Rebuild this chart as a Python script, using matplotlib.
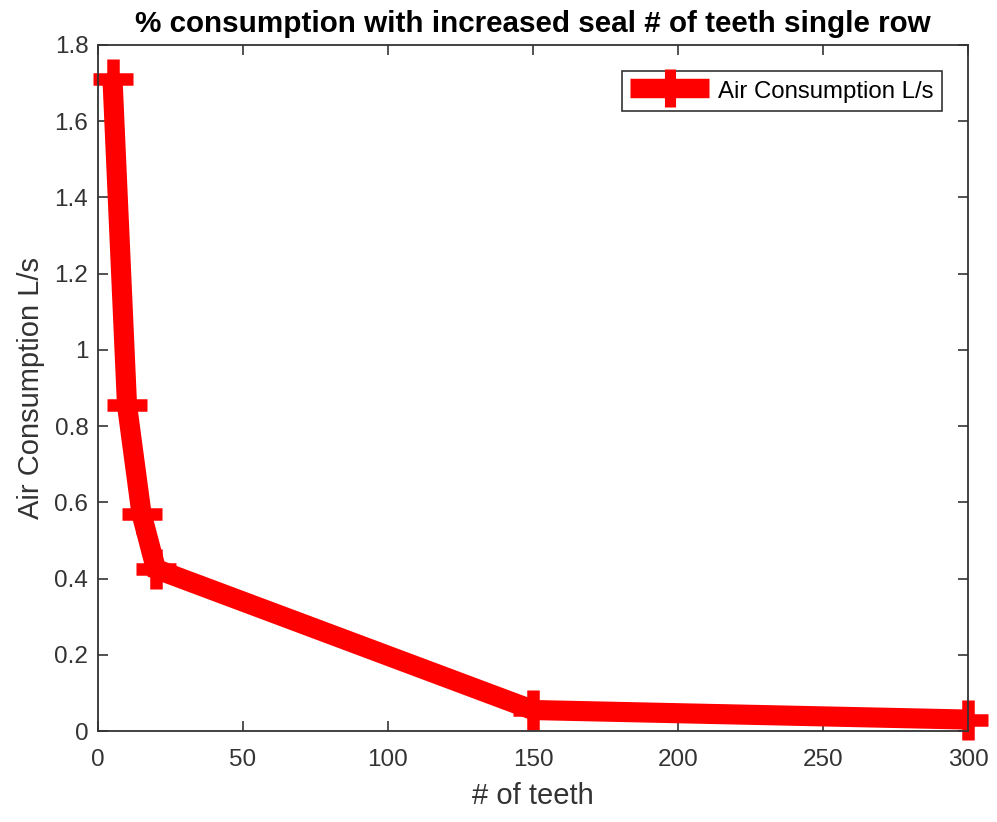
import matplotlib
matplotlib.use("Agg")
import matplotlib.pyplot as plt

# Данные
teeth = [5, 10, 15, 20, 150, 300]
air = [1.71, 0.855, 0.57, 0.425, 0.055, 0.03]
x_ticks = [0, 50, 100, 150, 200, 250, 300]
y_ticks = [0, 0.2, 0.4, 0.6, 0.8, 1, 1.2, 1.4, 1.6, 1.8]

grey = "#333333"
plt.rcParams['font.family'] = ['Liberation Sans', 'DejaVu Sans']

fig = plt.figure(figsize=(9.97, 8.22), dpi=100)
ax = fig.add_axes([0.0983, 0.1107, 0.8726, 0.8346])

ax.plot(teeth, air, color='#ff0000', linewidth=14.5, marker='+',
        markersize=29, markeredgewidth=9, label='Air Consumption L/s',
        clip_on=False, solid_joinstyle='miter', solid_capstyle='butt')

ax.set_xlim(0, 300)
ax.set_ylim(0, 1.8)
ax.set_xticks(x_ticks)
ax.set_yticks(y_ticks)
ax.set_yticklabels([f"{v:g}" for v in y_ticks])
ax.tick_params(direction='in', top=True, right=True, length=7, width=1.2,
               colors=grey, labelsize=17.5)
ax.tick_params(axis='x', pad=13)
ax.tick_params(axis='y', pad=7)
for s in ax.spines.values():
    s.set_color(grey)
    s.set_linewidth(1.3)

ax.set_title("% consumption with increased seal # of teeth single row",
             fontsize=21.3, fontweight='bold', color='black', pad=9)
ax.set_xlabel("# of teeth", fontsize=21, color=grey, labelpad=8)
ax.set_ylabel("Air Consumption L/s", fontsize=21, color=grey, labelpad=7)

leg = ax.legend(loc='upper right', fontsize=17.3, handlelength=3.3,
                fancybox=False, framealpha=1, borderaxespad=1.08,
                handletextpad=0.37, borderpad=0.35, handleheight=0.9)
leg.get_frame().set_edgecolor(grey)
leg.get_frame().set_linewidth(1.2)
for h in leg.legend_handles:
    h.set_markersize(27)
    h.set_markeredgewidth(8)
    h.set_linewidth(14)
    h.set_solid_capstyle('butt')

fig.savefig("out.png", dpi=100)
